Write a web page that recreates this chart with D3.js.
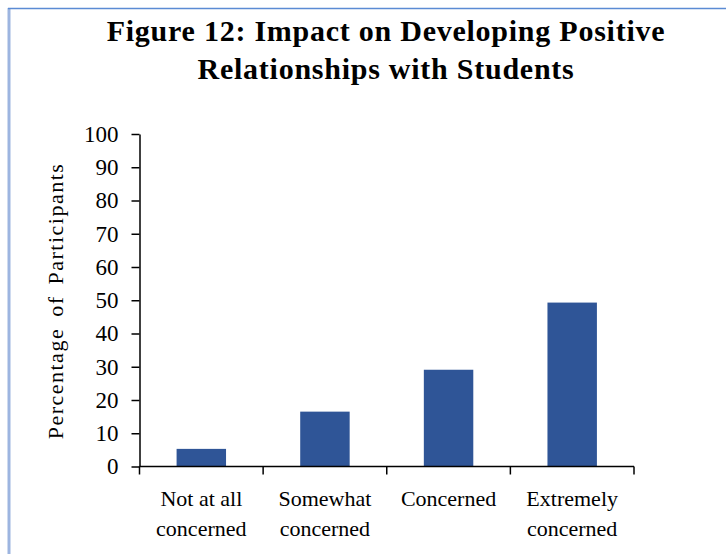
<!DOCTYPE html>
<html>
<head>
<meta charset="utf-8">
<style>
  body { margin: 0; background: #fff; }
  svg { display: block; }
</style>
</head>
<body>
<svg width="726" height="554" font-family="'Liberation Serif', serif"></svg>
<script src="https://d3js.org/d3.v7.min.js"></script>
<script>
var categories = [["Not at all", "concerned"], ["Somewhat", "concerned"], ["Concerned"], ["Extremely", "concerned"]];
var values = [5.3, 16.5, 29.1, 49.3];
var yTicks = [0, 10, 20, 30, 40, 50, 60, 70, 80, 90, 100];
var titleLines = ["Figure 12: Impact on Developing Positive", "Relationships with Students"];
var yLabel = "Percentage of Participants";

var svg = d3.select("svg");

// frame
svg.append("line").attr("x1", 9).attr("x2", 9).attr("y1", 8).attr("y2", 554)
    .attr("stroke", "#9db5e0").attr("stroke-width", 3);
svg.append("line").attr("x1", 8).attr("x2", 726).attr("y1", 8.5).attr("y2", 8.5)
    .attr("stroke", "#5b8bd4").attr("stroke-width", 1.5);

var margin = {left: 139.5, right: 634, top: 134, bottom: 466.5};

var x = d3.scaleBand()
    .domain(d3.range(categories.length))
    .range([margin.left, margin.right])
    .paddingInner(0.6)
    .paddingOuter(0.3);

var xBand = d3.scaleBand()
    .domain(d3.range(categories.length))
    .range([margin.left, margin.right]);

var y = d3.scaleLinear().domain([0, 100]).range([margin.bottom, margin.top]);

// title
svg.append("text")
    .attr("text-anchor", "middle")
    .attr("font-weight", "bold")
    .attr("font-size", 30)
    .attr("letter-spacing", 0.75)
    .attr("fill", "#000")
  .selectAll("tspan")
  .data(titleLines)
  .enter().append("tspan")
    .attr("x", 386)
    .attr("y", function(d, i) { return 41 + i * 38; })
    .text(function(d) { return d; });

// bars
svg.selectAll(".bar")
  .data(values)
  .enter().append("rect")
    .attr("class", "bar")
    .attr("x", function(d, i) { return x(i); })
    .attr("width", x.bandwidth())
    .attr("y", function(d) { return y(d); })
    .attr("height", function(d) { return y(0) - y(d); })
    .attr("fill", "#2f5597");

// y axis
var yAxis = svg.append("g")
    .attr("transform", "translate(" + margin.left + ",0)")
    .call(d3.axisLeft(y).tickValues(yTicks).tickSize(8).tickPadding(13).tickSizeOuter(0));
yAxis.selectAll("text").attr("font-size", 23).attr("font-family", "'Liberation Serif', serif").attr("fill", "#000");
yAxis.selectAll("line, path").attr("stroke", "#000").attr("stroke-width", 1.5);

// x axis
var xAxis = svg.append("g")
    .attr("transform", "translate(0," + margin.bottom + ")");
xAxis.append("line")
    .attr("x1", margin.left).attr("x2", margin.right)
    .attr("stroke", "#000").attr("stroke-width", 1.5);
xAxis.selectAll(".xtick")
  .data(d3.range(categories.length + 1))
  .enter().append("line")
    .attr("class", "xtick")
    .attr("x1", function(d) { return d < categories.length ? xBand(d) : margin.right; })
    .attr("x2", function(d) { return d < categories.length ? xBand(d) : margin.right; })
    .attr("y1", 0).attr("y2", 8)
    .attr("stroke", "#000").attr("stroke-width", 1.5);

xAxis.selectAll(".xlabel")
  .data(categories)
  .enter().append("text")
    .attr("class", "xlabel")
    .attr("text-anchor", "middle")
    .attr("font-size", 22)
    .attr("fill", "#000")
  .each(function(d, i) {
    d3.select(this).selectAll("tspan")
      .data(d)
      .enter().append("tspan")
        .attr("x", xBand(i) + xBand.bandwidth() / 2)
        .attr("y", function(t, j) { return 39 + j * 30; })
        .text(function(t) { return t; });
  });

// y label
svg.append("text")
    .attr("transform", "translate(63,301) rotate(-90)")
    .attr("text-anchor", "middle")
    .attr("font-size", 22)
    .attr("letter-spacing", 1.5)
    .attr("word-spacing", 4)
    .attr("fill", "#000")
    .text(yLabel);
</script>
</body>
</html>
